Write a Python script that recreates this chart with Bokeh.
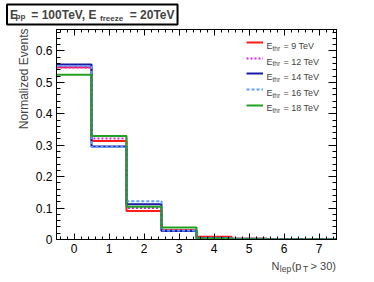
import math
from bokeh.plotting import figure
from bokeh.models import (Range1d, FixedTicker, LinearAxis, Label,
                          Legend, LegendItem, CustomJSTickFormatter)
from bokeh.embed import file_html
from bokeh.resources import INLINE

# ---- data ----
n_lep = [0, 1, 2, 3, 4, 5, 6, 7]
bin_edges = [-0.5, 0.5, 1.5, 2.5, 3.5, 4.5, 5.5, 6.5, 7.5]
thr_labels = ["9 TeV", "12 TeV", "14 TeV", "16 TeV", "18 TeV"]
frac_9 = [0.548, 0.313, 0.091, 0.030, 0.009, 0.002, 0.001, 0.0]
frac_12 = [0.547, 0.321, 0.100, 0.028, 0.004, 0.001, 0.0, 0.0]
frac_14 = [0.557, 0.296, 0.112, 0.027, 0.004, 0.002, 0.0, 0.0]
frac_16 = [0.552, 0.294, 0.122, 0.029, 0.004, 0.001, 0.0, 0.0]
frac_18 = [0.524, 0.329, 0.104, 0.038, 0.003, 0.001, 0.0, 0.0]
y_ticks = [0.0, 0.1, 0.2, 0.3, 0.4, 0.5, 0.6]

series = [frac_9, frac_12, frac_14, frac_16, frac_18]
colors = ["#ff1a1a", "#e020e0", "#1a1aa6", "#5aa0ff", "#22a022"]
dashes = ["solid", "2 2", "solid", "3 2", "solid"]

FONT = "Liberation Sans"
NB = "\u00a0"

p = figure(width=374, height=282, output_backend="svg", toolbar_location=None,
           x_range=Range1d(-0.5, 7.5), y_range=Range1d(0, 0.668),
           min_border_left=56, min_border_right=38, min_border_top=29,
           min_border_bottom=43, x_axis_type=None, y_axis_type=None)
p.outline_line_color = "black"
p.outline_line_width = 1
p.background_fill_color = "white"
p.border_fill_color = "white"

x_minor = [i * 0.2 for i in range(-2, 38)]
y_minor = [i * 0.02 for i in range(0, 34)]
xt = FixedTicker(ticks=n_lep, minor_ticks=x_minor)
yt = FixedTicker(ticks=y_ticks, minor_ticks=y_minor)
empty = CustomJSTickFormatter(code="return ''")

def style(ax, major, minor, labels=True):
    ax.axis_line_color = "black"
    ax.major_tick_line_color = "black"
    ax.minor_tick_line_color = "black"
    ax.major_tick_in = major
    ax.major_tick_out = 0
    ax.minor_tick_in = minor
    ax.minor_tick_out = 0
    ax.major_label_text_font = FONT
    ax.major_label_text_font_size = "12px"
    ax.major_label_text_color = "black"
    ax.major_label_standoff = 4
    if not labels:
        ax.formatter = empty
        ax.major_label_standoff = 0

xb = LinearAxis(ticker=xt)
style(xb, 6, 3)
p.add_layout(xb, "below")
xa = LinearAxis(ticker=xt)
style(xa, 6, 3, labels=False)
p.add_layout(xa, "above")
yl = LinearAxis(ticker=yt)
style(yl, 8, 4)
yl.major_label_overrides = {0: "0"}
p.add_layout(yl, "left")
yr = LinearAxis(ticker=yt)
style(yr, 8, 4, labels=False)
p.add_layout(yr, "right")

renderers = []
for vals, c, d in zip(series, colors, dashes):
    r = p.step(x=bin_edges, y=vals + [vals[-1]], mode="after",
               line_color=c, line_width=2, line_dash=d)
    renderers.append(r)

# legend samples (one legend per entry for exact spacing)
legend_cy = [42.3, 58.0, 73.3, 89.3, 104.7]
frame_bottom = 239
for r, cy in zip(renderers, legend_cy):
    lg = Legend(items=[LegendItem(label=" ", renderers=[r])],
                location=(190, frame_bottom - cy - 5),
                glyph_width=17, glyph_height=10, label_height=10,
                label_width=1, label_standoff=0, padding=0, margin=0,
                spacing=0, border_line_color=None, background_fill_alpha=0,
                label_text_font_size="1px")
    p.add_layout(lg)

for lab, cy in zip(thr_labels, legend_cy):
    p.add_layout(Label(x=266, y=cy + 3.2, x_units="canvas", y_units="canvas",
                       text="E", text_font=FONT, text_font_size="9px",
                       text_baseline="alphabetic"))
    p.add_layout(Label(x=272, y=cy + 5.2, x_units="canvas", y_units="canvas",
                       text="thr", text_font=FONT, text_font_size="6.5px",
                       text_baseline="alphabetic"))
    p.add_layout(Label(x=283, y=cy + 3.2, x_units="canvas", y_units="canvas",
                       text="= " + lab, text_font=FONT, text_font_size="9px",
                       text_baseline="alphabetic"))

# title box: main text with border (above panel), subscripts in side panels
p.add_layout(Label(x=6.5, y=4, x_units="canvas", y_units="canvas",
                   text="E" + NB * 4 + "= 100TeV, E" + NB * 10 + "= 20TeV",
                   text_font=FONT, text_font_size="12px", text_font_style="bold",
                   text_baseline="top", padding=3,
                   border_line_color="black", border_line_width=2,
                   background_fill_color=None), "above")
p.add_layout(Label(x=15, y=15.5, x_units="canvas", y_units="canvas", text="pp",
                   text_font=FONT, text_font_size="8px", text_font_style="bold",
                   text_baseline="alphabetic"), "left")
p.add_layout(Label(x=99.5, y=18, x_units="canvas", y_units="canvas",
                   text="freeze", text_font=FONT, text_font_size="8px",
                   text_font_style="bold", text_baseline="alphabetic"), "right")

# y axis title
p.add_layout(Label(x=23.5, y=28, x_units="canvas", y_units="canvas",
                   text="Normalized Events", angle=math.pi / 2,
                   text_align="right", text_baseline="alphabetic",
                   text_font=FONT, text_font_size="12px"), "left")

# x axis title
p.add_layout(Label(x=271, y=265.5, x_units="canvas", y_units="canvas",
                   text="N" + NB * 4 + "(p" + NB * 3 + "> 30)",
                   text_font=FONT, text_font_size="11px",
                   text_baseline="alphabetic"), "below")
p.add_layout(Label(x=279.3, y=268.5, x_units="canvas", y_units="canvas",
                   text="lep" + NB * 5 + "T",
                   text_font=FONT, text_font_size="8.5px",
                   text_baseline="alphabetic"), "below")

open("out.html", "w").write(file_html(p, INLINE))
